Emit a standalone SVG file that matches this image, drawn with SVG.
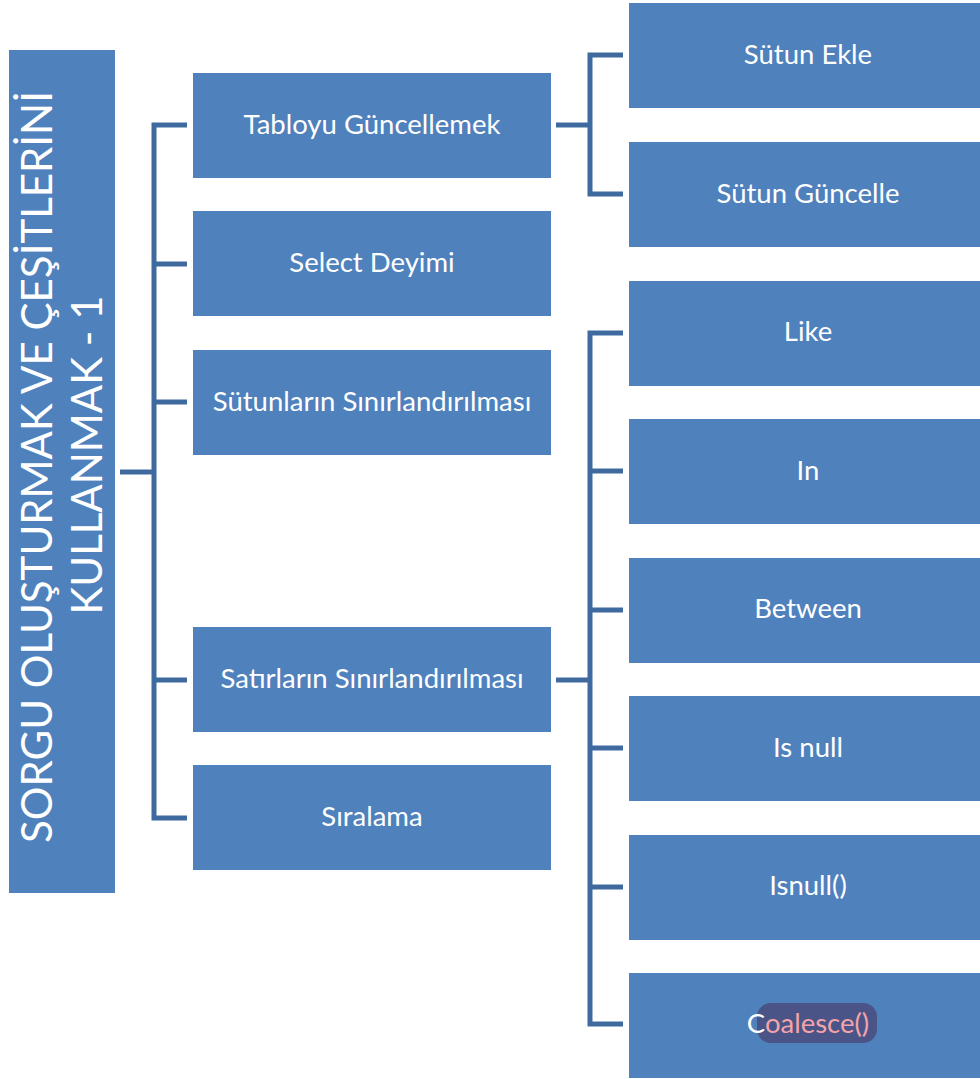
<svg xmlns="http://www.w3.org/2000/svg" width="980" height="1079" viewBox="0 0 980 1079">
<style>
.n{fill:#4f81bd}
.t{fill:#fff;font-family:Lato,"Open Sans",sans-serif;font-size:27.5px;text-anchor:middle;dominant-baseline:central}
.big{fill:#fff;font-family:Lato,"Open Sans",sans-serif;font-size:42px;text-anchor:middle}
.c{fill:none;stroke:#3e6a9f;stroke-width:5;stroke-linejoin:miter}
</style>
<rect width="980" height="1079" fill="#fff"/>
<g id="connectors">
<path class="c" d="M120 472H154M187 125H154V818H187M154 264H187M154 402H187M154 680H187"/>
<path class="c" d="M556 125H590M623 55H590V194H623"/>
<path class="c" d="M556 680H590M623 333H590V1024H623M590 471H623M590 610H623M590 748H623M590 887H623"/>
</g>
<g id="root"><rect class="n" x="9" y="50" width="106" height="843"/>
<text class="big" transform="translate(52 467) rotate(-90)">SORGU OLUŞTURMAK VE ÇEŞİTLERİNİ</text>
<text class="big" transform="translate(102 455) rotate(-90)">KULLANMAK - 1</text></g>
<g id="n-tablo"><rect class="n" x="193" y="73" width="358" height="105"/><text class="t" x="372" y="123">Tabloyu Güncellemek</text></g>
<g id="n-select"><rect class="n" x="193" y="211" width="358" height="105"/><text class="t" x="372" y="261">Select Deyimi</text></g>
<g id="n-sutunlar"><rect class="n" x="193" y="350" width="358" height="105"/><text class="t" x="372" y="400">Sütunların Sınırlandırılması</text></g>
<g id="n-satirlar"><rect class="n" x="193" y="627" width="358" height="105"/><text class="t" x="372" y="677">Satırların Sınırlandırılması</text></g>
<g id="n-siralama"><rect class="n" x="193" y="765" width="358" height="105"/><text class="t" x="372" y="815">Sıralama</text></g>
<g id="n-ekle"><rect class="n" x="629" y="3" width="351" height="105"/><text class="t" x="808" y="53">Sütun Ekle</text></g>
<g id="n-guncelle"><rect class="n" x="629" y="142" width="351" height="105"/><text class="t" x="808" y="192">Sütun Güncelle</text></g>
<g id="n-like"><rect class="n" x="629" y="281" width="351" height="105"/><text class="t" x="808" y="330">Like</text></g>
<g id="n-in"><rect class="n" x="629" y="419" width="351" height="105"/><text class="t" x="808" y="469">In</text></g>
<g id="n-between"><rect class="n" x="629" y="558" width="351" height="105"/><text class="t" x="808" y="607">Between</text></g>
<g id="n-isnull"><rect class="n" x="629" y="696" width="351" height="105"/><text class="t" x="808" y="746">Is null</text></g>
<g id="n-isnullf"><rect class="n" x="629" y="835" width="351" height="105"/><text class="t" x="808" y="884">Isnull()</text></g>
<g id="n-coalesce"><rect class="n" x="629" y="973" width="351" height="105"/>
<rect x="757" y="1003" width="120" height="40" rx="14" fill="#4a5486"/>
<text class="t" x="808" y="1022">C<tspan fill="#f4a3aa">oalesce()</tspan></text></g>
</svg>
